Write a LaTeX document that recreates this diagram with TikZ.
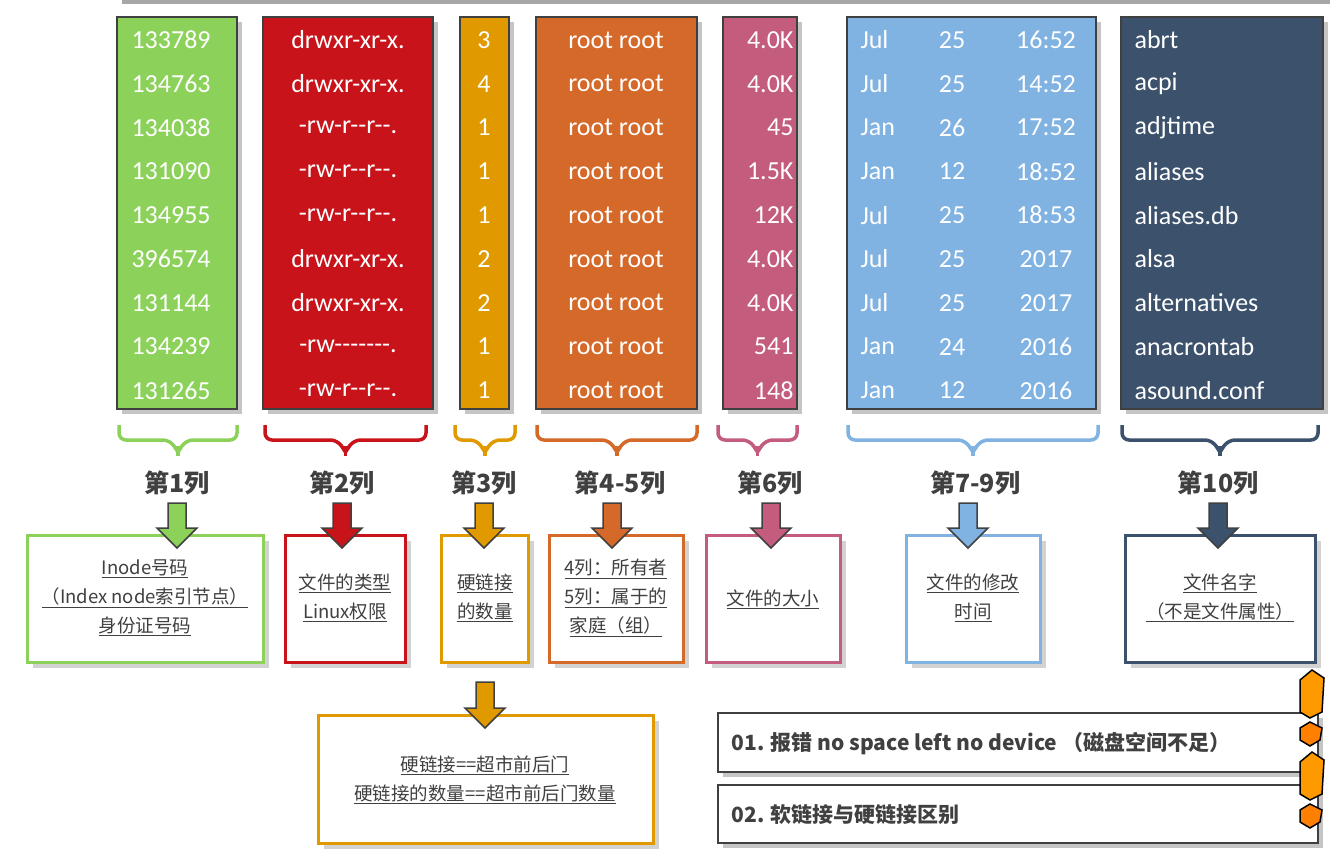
\documentclass[tikz,border=0pt]{standalone}
\usepackage{fontspec}
\setmainfont{Carlito}[Ligatures=ResetAll]
\newfontfamily\cjk{Noto Sans CJK SC}
\usetikzlibrary{shadows}
\definecolor{cA}{HTML}{8CD25A}
\definecolor{cB}{HTML}{C8131A}
\definecolor{cC}{HTML}{E09A00}
\definecolor{cD}{HTML}{D4692A}
\definecolor{cE}{HTML}{C45C7E}
\definecolor{cF}{HTML}{80B2E2}
\definecolor{cG}{HTML}{3B516C}
\definecolor{dk}{HTML}{404040}
\tikzset{
 colbox/.style={draw=dk,line width=1.5pt,drop shadow={shadow xshift=5pt,shadow yshift=-5pt,fill=black!45}},
 infobox/.style={draw=#1,fill=white,line width=3pt,drop shadow={shadow xshift=6pt,shadow yshift=-6pt,fill=black!35}},
 celltxt/.style={text=white,font=\fontsize{26}{28}\selectfont},
 lbl/.style={text=dk,font=\cjk\bfseries\fontsize{25}{28}\selectfont},
 boxtxt/.style={text=dk,font=\cjk\fontsize{18.5}{29}\selectfont,align=center},
 notetxt/.style={text=dk,font=\cjk\bfseries\fontsize{21}{24}\selectfont,anchor=west},
 brc/.style={draw=#1,line width=3.5pt,rounded corners=7pt},
 blk/.style={draw=dk,fill=#1,line width=1.5pt,line join=miter},
}
\newcommand{\dnarrow}[4]{% x, ytop, ybottom, color
 \draw[blk=#4] (#1-9,#2) -- (#1+9,#2) -- (#1+9,#3-20) -- (#1+20,#3-20) -- (#1,#3) -- (#1-20,#3-20) -- (#1-9,#3-20) -- cycle;}
\newcommand{\colbrace}[3]{% x1,x2,color
 \draw[brc=#3] (#1,425) -- (#1,440) -- ({(#1+#2)/2-8},440) -- ({(#1+#2)/2},452) (#2,425) -- (#2,440) -- ({(#1+#2)/2+8},440) -- ({(#1+#2)/2},452);
 \draw[draw=#3,line width=3.5pt] ({(#1+#2)/2},446) -- ({(#1+#2)/2},456);}
\begin{document}
\begin{tikzpicture}[x=1pt,y=-1pt]
\useasboundingbox[fill=white] (0,0) rectangle (1335,858);
\fill[black!35] (122,0) rectangle (1330,4);
% columns
\draw[colbox,fill=cA] (117,17) rectangle (237,409);
\draw[colbox,fill=cB] (263,17) rectangle (433,409);
\draw[colbox,fill=cC] (460,17) rectangle (509,409);
\draw[colbox,fill=cD] (536,17) rectangle (697,409);
\draw[colbox,fill=cE] (723,17) rectangle (797,409);
\draw[colbox,fill=cF] (847,17) rectangle (1096,409);
\draw[colbox,fill=cG] (1121,17) rectangle (1323,409);
\foreach \i/\a/\b/\c/\s/\m/\d/\t/\f in {
 0/133789/drwxr-xr-x./3/4.0K/Jul/25/16:52/abrt,
 1/134763/drwxr-xr-x./4/4.0K/Jul/25/14:52/acpi,
 2/134038/-rw-r-{}-r-{}-./1/45/Jan/26/17:52/adjtime,
 3/131090/-rw-r-{}-r-{}-./1/1.5K/Jan/12/18:52/aliases,
 4/134955/-rw-r-{}-r-{}-./1/12K/Jul/25/18:53/aliases.db,
 5/396574/drwxr-xr-x./2/4.0K/Jul/25/2017/alsa,
 6/131144/drwxr-xr-x./2/4.0K/Jul/25/2017/alternatives,
 7/134239/-rw-{}-{}-{}-{}-{}-{}-./1/541/Jan/24/2016/anacrontab,
 8/131265/-rw-r-{}-r-{}-./1/148/Jan/12/2016/asound.conf}{
 \pgfmathsetmacro\yy{40+\i*43.8}
 \node[celltxt,anchor=west] (a\i) at (128,\yy) {\a};
 \node[celltxt] (b\i) at (348,\yy) {\b};
 \node[celltxt] (c\i) at (484,\yy) {\c};
 \node[celltxt] (d\i) at (616,\yy) {root root};
 \node[celltxt,anchor=east] (e\i) at (797,\yy) {\s};
 \node[celltxt,anchor=west] (m\i) at (857,\yy) {\m};
 \node[celltxt] (dd\i) at (952,\yy) {\d};
 \node[celltxt] (t\i) at (1046,\yy) {\t};
 \node[celltxt,anchor=west] (f\i) at (1131,\yy) {\f};
}
% braces
\colbrace{119}{237}{cA}
\colbrace{265}{426}{cB}
\colbrace{455}{515}{cC}
\colbrace{537}{697}{cD}
\colbrace{718}{797}{cE}
\colbrace{848}{1098}{cF}
\colbrace{1122}{1318}{cG}
% labels
\node[lbl] (l1) at (177,483) {第1列};
\node[lbl] (l2) at (342,483) {第2列};
\node[lbl] (l3) at (484,483) {第3列};
\node[lbl] (l4) at (620,483) {第4-5列};
\node[lbl] (l5) at (770,483) {第6列};
\node[lbl] (l6) at (975,483) {第7-9列};
\node[lbl] (l7) at (1218,483) {第10列};
% info boxes
\draw[infobox=cA] (27,535) rectangle (263,662);
\draw[infobox=cB] (285,535) rectangle (405,662);
\draw[infobox=cC] (441,535) rectangle (528,662);
\draw[infobox=cD] (549,535) rectangle (683,662);
\draw[infobox=cE] (706,535) rectangle (840,662);
\draw[infobox=cF] (906,535) rectangle (1040,662);
\draw[infobox=cG] (1125,535) rectangle (1315,662);
\draw[infobox=cC] (318,715) rectangle (653,843);
\node[boxtxt] (t1) at (145,598) {\underline{Inode号码}\\\underline{（Index node索引节点）}\\\underline{身份证号码}};
\node[boxtxt] (t2) at (345,598) {\underline{文件的类型}\\\underline{Linux权限}};
\node[boxtxt] (t3) at (485,598) {\underline{硬链接}\\\underline{的数量}};
\node[boxtxt] (t4) at (616,598) {\underline{4列：所有者}\\\underline{5列：属于的}\\\underline{家庭（组）}};
\node[boxtxt] (t5) at (773,599) {\underline{文件的大小}};
\node[boxtxt] (t6) at (973,598) {\underline{文件的修改}\\\underline{时间}};
\node[boxtxt] (t7) at (1220,598) {\underline{文件名字}\\\underline{（不是文件属性）}};
\node[boxtxt] (t8) at (485,780) {\underline{硬链接==超市前后门}\\\underline{硬链接的数量==超市前后门数量}};
% arrows
\dnarrow{177}{503}{548}{cA}
\dnarrow{342}{503}{548}{cB}
\dnarrow{484}{503}{548}{cC}
\dnarrow{612}{503}{548}{cD}
\dnarrow{771}{503}{548}{cE}
\dnarrow{968}{503}{548}{cF}
\dnarrow{1218}{503}{548}{cG}
\dnarrow{485}{682}{728}{cC}
% notes
\draw[colbox,fill=white] (718,713) rectangle (1318,772);
\draw[colbox,fill=white] (718,785) rectangle (1318,843);
\node[notetxt] (n1) at (728,744) {01. 报错 no space left no device （磁盘空间不足）};
\node[notetxt] (n2) at (728,815) {02. 软链接与硬链接区别};
% exclamation marks
\foreach \yy in {670,752}{
 \draw[fill=orange!80!yellow,draw=black,line width=1.5pt] (1300,\yy+10) -- (1312,\yy) -- (1324,\yy+8) -- (1322,\yy+42) -- (1310,\yy+48) -- (1300,\yy+42) -- cycle;
 \draw[fill=orange,draw=black,line width=1.5pt] (1300,\yy+58) -- (1310,\yy+52) -- (1322,\yy+58) -- (1320,\yy+70) -- (1310,\yy+76) -- (1300,\yy+70) -- cycle;
}
\end{tikzpicture}
\end{document}
